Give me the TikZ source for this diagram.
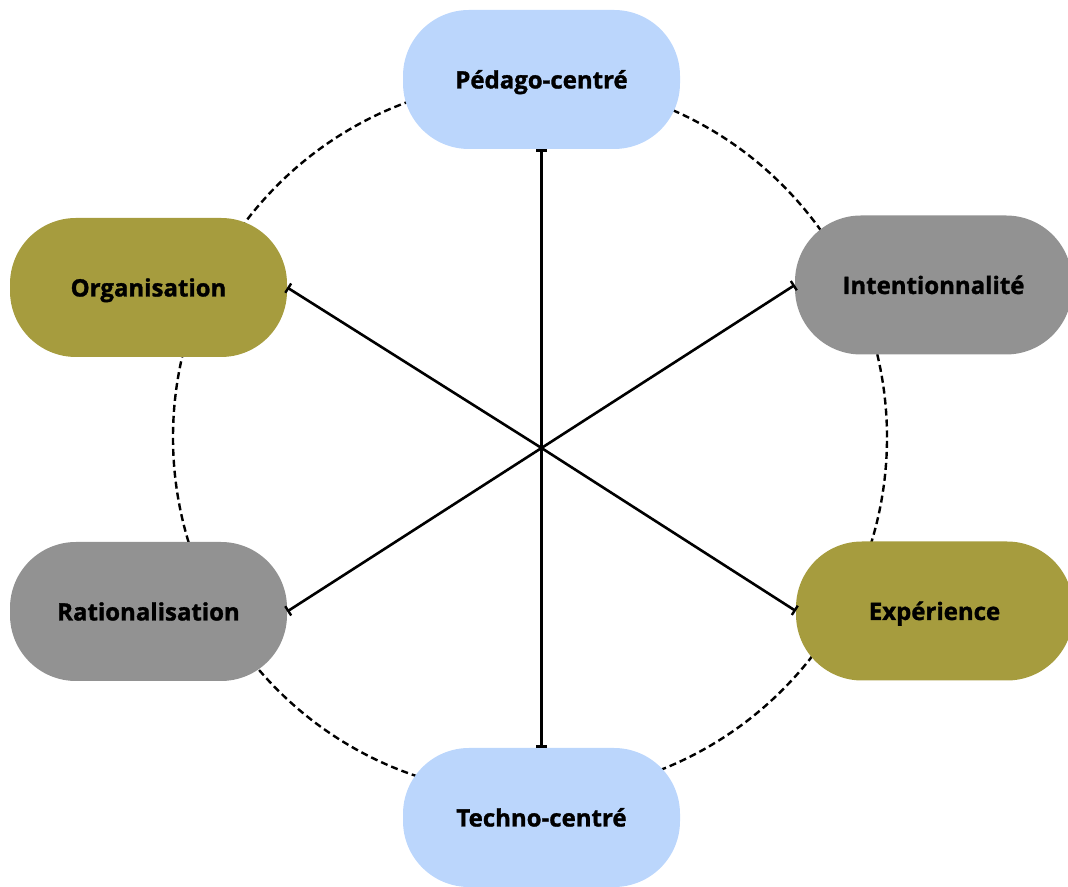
\documentclass[tikz,border=0pt]{standalone}
\usepackage{fontspec}
\setmainfont{Open Sans}[BoldFont={* Bold}, BoldFeatures={FakeBold=1.3}]
\usetikzlibrary{arrows.meta}
\definecolor{paleblue}{RGB}{187,214,252}
\definecolor{olive}{RGB}{166,156,62}
\definecolor{midgrey}{RGB}{146,146,146}
\tikzset{
  pill/.style={rectangle, rounded corners=66pt, minimum width=277pt, minimum height=139pt,
    inner sep=0pt, text height=20pt, text depth=2pt,
    font=\fontsize{24}{28}\selectfont\bfseries, text=black},
  ring/.style={draw=black, line width=2.4pt, dash pattern=on 7pt off 4pt},
  spoke/.style={draw=black, line width=2.6pt, -{Bar[width=11pt,line width=2.4pt]}},
}
\begin{document}
\begin{tikzpicture}[x=1pt,y=1pt]
  \useasboundingbox (0,0) rectangle (1068,886);
  \clip (0,0) rectangle (1068,886);
  % dashed ring behind the six poles
  \draw[ring] (530,448.5) circle[radius=357];
  % poles
  \node[pill, fill=paleblue] (ped) at (541.5,806.5) {Pédago-centré};
  \node[pill, fill=olive]    (org) at (148.5,598.5) {Organisation};
  \node[pill, fill=midgrey]  (int) at (933.5,601)   {Intentionnalité};
  \node[pill, fill=midgrey]  (rat) at (148.5,274.5) {Rationalisation};
  \node[pill, fill=olive]    (exp) at (934.5,275)   {Expérience};
  \node[pill, fill=paleblue] (tec) at (541.5,68.5)  {Techno-centré};
  % spokes from the common centre
  \coordinate (c) at (541.5,438);
  \draw[spoke] (c) -- (ped.south);
  \draw[spoke] (c) -- (tec.north);
  \draw[spoke] (c) -- (org.east);
  \draw[spoke] (c) -- (int.west);
  \draw[spoke] (c) -- (rat.east);
  \draw[spoke] (c) -- (exp.west);
\end{tikzpicture}
\end{document}
